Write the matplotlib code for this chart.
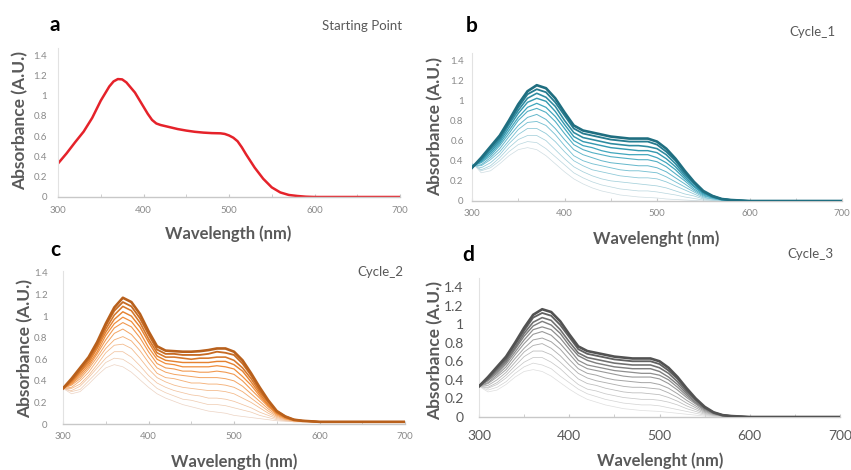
import numpy as np
import matplotlib
matplotlib.use("Agg")
import matplotlib.pyplot as plt
from matplotlib.colors import LinearSegmentedColormap

plt.rcParams['font.family'] = ['Lato', 'DejaVu Sans']

# wavelength grid (nm) used for the cycle spectra
wl = [300, 310, 320, 330, 340, 350, 360, 370, 380, 390, 400, 410, 420, 430, 440, 450,
      460, 470, 480, 490, 500, 510, 520, 530, 540, 550, 560, 570, 580, 600, 700]

# a: starting point (read a bit finer)
start_wl = [300, 310, 320, 330, 340, 350, 360, 365, 370, 375, 380, 390, 400, 405, 410, 415, 420, 430,
            440, 450, 460, 470, 480, 490, 495, 500, 505, 510, 515, 520, 530, 540, 550, 560, 570, 580,
            590, 600, 700]
start_abs = [0.33, 0.43, 0.54, 0.645, 0.78, 0.95, 1.09, 1.14, 1.163, 1.16, 1.13, 1.03, 0.89, 0.82, 0.76,
             0.725, 0.71, 0.69, 0.67, 0.655, 0.643, 0.635, 0.63, 0.628, 0.622, 0.607, 0.585, 0.55, 0.49,
             0.42, 0.29, 0.18, 0.095, 0.045, 0.02, 0.01, 0.003, 0.0, 0.0]

# b: cycle 1 (lowest -> highest)
cycle1_abs = [
    [0.38, 0.28, 0.30, 0.37, 0.45, 0.51, 0.53, 0.51, 0.45, 0.37, 0.29, 0.22, 0.17, 0.13, 0.10, 0.08, 0.06, 0.05, 0.04, 0.035, 0.03, 0.02, 0.015, 0.01, 0.005, 0, 0, 0, 0, 0, 0],
    [0.37, 0.30, 0.33, 0.40, 0.49, 0.56, 0.59, 0.58, 0.52, 0.44, 0.36, 0.28, 0.23, 0.19, 0.16, 0.14, 0.12, 0.11, 0.10, 0.10, 0.09, 0.075, 0.06, 0.04, 0.025, 0.01, 0.005, 0, 0, 0, 0],
    [0.37, 0.31, 0.35, 0.43, 0.53, 0.61, 0.65, 0.65, 0.60, 0.51, 0.42, 0.34, 0.29, 0.25, 0.22, 0.20, 0.19, 0.18, 0.17, 0.16, 0.15, 0.13, 0.10, 0.07, 0.05, 0.02, 0.01, 0.005, 0, 0, 0],
    [0.36, 0.33, 0.38, 0.46, 0.57, 0.66, 0.72, 0.72, 0.67, 0.59, 0.49, 0.40, 0.35, 0.31, 0.29, 0.27, 0.25, 0.24, 0.23, 0.23, 0.22, 0.19, 0.15, 0.11, 0.07, 0.03, 0.02, 0.01, 0, 0, 0],
    [0.36, 0.35, 0.41, 0.49, 0.60, 0.71, 0.78, 0.79, 0.75, 0.66, 0.55, 0.45, 0.40, 0.37, 0.35, 0.33, 0.31, 0.30, 0.30, 0.29, 0.28, 0.24, 0.19, 0.14, 0.09, 0.04, 0.02, 0.01, 0, 0, 0],
    [0.35, 0.36, 0.43, 0.52, 0.64, 0.75, 0.83, 0.86, 0.81, 0.72, 0.61, 0.51, 0.46, 0.43, 0.40, 0.38, 0.37, 0.36, 0.35, 0.35, 0.33, 0.29, 0.23, 0.17, 0.105, 0.05, 0.03, 0.01, 0.005, 0, 0],
    [0.35, 0.38, 0.45, 0.55, 0.67, 0.80, 0.89, 0.92, 0.88, 0.79, 0.67, 0.56, 0.51, 0.48, 0.46, 0.44, 0.43, 0.42, 0.41, 0.41, 0.39, 0.34, 0.27, 0.20, 0.12, 0.06, 0.03, 0.01, 0.005, 0, 0],
    [0.34, 0.39, 0.47, 0.57, 0.70, 0.83, 0.93, 0.97, 0.93, 0.84, 0.72, 0.60, 0.55, 0.53, 0.50, 0.48, 0.47, 0.46, 0.46, 0.46, 0.43, 0.38, 0.31, 0.22, 0.14, 0.07, 0.04, 0.015, 0.005, 0, 0],
    [0.34, 0.40, 0.49, 0.59, 0.73, 0.87, 0.98, 1.02, 0.99, 0.89, 0.76, 0.64, 0.59, 0.57, 0.55, 0.53, 0.52, 0.51, 0.50, 0.50, 0.48, 0.42, 0.34, 0.24, 0.15, 0.08, 0.04, 0.02, 0.01, 0, 0],
    [0.34, 0.41, 0.51, 0.61, 0.76, 0.90, 1.02, 1.07, 1.03, 0.94, 0.80, 0.68, 0.63, 0.61, 0.59, 0.57, 0.56, 0.55, 0.55, 0.54, 0.52, 0.46, 0.37, 0.26, 0.17, 0.09, 0.04, 0.02, 0.01, 0, 0],
    [0.33, 0.42, 0.53, 0.63, 0.78, 0.93, 1.06, 1.11, 1.08, 0.98, 0.85, 0.72, 0.67, 0.65, 0.63, 0.61, 0.60, 0.59, 0.59, 0.59, 0.56, 0.49, 0.40, 0.28, 0.18, 0.09, 0.05, 0.02, 0.01, 0, 0],
    [0.33, 0.43, 0.54, 0.65, 0.80, 0.96, 1.09, 1.15, 1.12, 1.02, 0.88, 0.75, 0.70, 0.68, 0.66, 0.64, 0.63, 0.62, 0.62, 0.62, 0.59, 0.52, 0.42, 0.30, 0.19, 0.10, 0.05, 0.02, 0.01, 0, 0],
]

# c: cycle 2
cycle2_abs = [
    [0.33, 0.28, 0.30, 0.37, 0.45, 0.52, 0.55, 0.53, 0.48, 0.41, 0.34, 0.28, 0.24, 0.21, 0.18, 0.16, 0.14, 0.12, 0.11, 0.10, 0.08, 0.07, 0.06, 0.05, 0.04, 0.03, 0.025, 0.02, 0.02, 0.02, 0.02],
    [0.33, 0.30, 0.32, 0.40, 0.48, 0.57, 0.61, 0.60, 0.55, 0.48, 0.40, 0.33, 0.29, 0.26, 0.23, 0.22, 0.20, 0.18, 0.18, 0.17, 0.15, 0.13, 0.11, 0.08, 0.06, 0.04, 0.03, 0.02, 0.02, 0.02, 0.02],
    [0.33, 0.31, 0.35, 0.43, 0.52, 0.61, 0.67, 0.67, 0.62, 0.54, 0.45, 0.38, 0.34, 0.31, 0.29, 0.27, 0.26, 0.24, 0.24, 0.23, 0.21, 0.18, 0.15, 0.11, 0.08, 0.05, 0.035, 0.025, 0.02, 0.02, 0.02],
    [0.33, 0.33, 0.37, 0.45, 0.55, 0.66, 0.73, 0.74, 0.70, 0.61, 0.51, 0.43, 0.39, 0.36, 0.34, 0.33, 0.32, 0.31, 0.31, 0.30, 0.28, 0.24, 0.20, 0.15, 0.10, 0.06, 0.04, 0.03, 0.02, 0.02, 0.02],
    [0.33, 0.34, 0.40, 0.48, 0.59, 0.70, 0.78, 0.81, 0.77, 0.68, 0.57, 0.47, 0.43, 0.42, 0.40, 0.38, 0.38, 0.37, 0.37, 0.36, 0.34, 0.30, 0.24, 0.18, 0.12, 0.07, 0.045, 0.03, 0.025, 0.02, 0.02],
    [0.33, 0.36, 0.42, 0.51, 0.62, 0.74, 0.84, 0.88, 0.83, 0.74, 0.62, 0.52, 0.48, 0.46, 0.45, 0.44, 0.43, 0.43, 0.43, 0.42, 0.40, 0.35, 0.28, 0.21, 0.14, 0.08, 0.05, 0.03, 0.025, 0.02, 0.02],
    [0.33, 0.37, 0.44, 0.53, 0.65, 0.78, 0.89, 0.94, 0.90, 0.80, 0.67, 0.56, 0.52, 0.51, 0.49, 0.49, 0.48, 0.48, 0.49, 0.48, 0.46, 0.40, 0.32, 0.24, 0.16, 0.09, 0.05, 0.03, 0.025, 0.02, 0.02],
    [0.33, 0.38, 0.46, 0.55, 0.67, 0.82, 0.93, 0.99, 0.95, 0.85, 0.71, 0.60, 0.56, 0.55, 0.53, 0.53, 0.53, 0.53, 0.54, 0.53, 0.51, 0.44, 0.36, 0.26, 0.17, 0.10, 0.06, 0.035, 0.03, 0.02, 0.02],
    [0.33, 0.39, 0.48, 0.57, 0.70, 0.85, 0.97, 1.04, 1.00, 0.90, 0.76, 0.63, 0.59, 0.58, 0.57, 0.57, 0.57, 0.57, 0.58, 0.58, 0.55, 0.49, 0.39, 0.28, 0.18, 0.10, 0.06, 0.035, 0.03, 0.02, 0.02],
    [0.33, 0.40, 0.49, 0.59, 0.72, 0.88, 1.01, 1.09, 1.05, 0.94, 0.79, 0.66, 0.62, 0.62, 0.61, 0.60, 0.61, 0.61, 0.62, 0.62, 0.59, 0.52, 0.42, 0.30, 0.20, 0.11, 0.065, 0.04, 0.03, 0.02, 0.02],
    [0.33, 0.41, 0.51, 0.61, 0.74, 0.91, 1.05, 1.13, 1.09, 0.98, 0.83, 0.69, 0.65, 0.65, 0.64, 0.64, 0.64, 0.65, 0.67, 0.66, 0.64, 0.56, 0.45, 0.32, 0.21, 0.12, 0.07, 0.04, 0.03, 0.02, 0.02],
    [0.33, 0.42, 0.52, 0.62, 0.76, 0.93, 1.08, 1.17, 1.13, 1.02, 0.86, 0.72, 0.68, 0.675, 0.67, 0.67, 0.675, 0.685, 0.70, 0.70, 0.67, 0.59, 0.47, 0.34, 0.22, 0.12, 0.07, 0.04, 0.03, 0.02, 0.02],
]

# d: cycle 3
cycle3_abs = [
    [0.33, 0.27, 0.29, 0.35, 0.43, 0.49, 0.51, 0.49, 0.44, 0.37, 0.30, 0.24, 0.19, 0.16, 0.13, 0.11, 0.09, 0.08, 0.07, 0.065, 0.06, 0.05, 0.04, 0.03, 0.02, 0.01, 0.005, 0, 0, 0, 0],
    [0.33, 0.29, 0.32, 0.38, 0.47, 0.54, 0.58, 0.56, 0.52, 0.44, 0.37, 0.30, 0.25, 0.22, 0.19, 0.17, 0.15, 0.14, 0.13, 0.13, 0.12, 0.10, 0.08, 0.06, 0.04, 0.02, 0.01, 0, 0, 0, 0],
    [0.33, 0.31, 0.35, 0.42, 0.51, 0.59, 0.64, 0.64, 0.59, 0.52, 0.43, 0.35, 0.30, 0.28, 0.25, 0.23, 0.21, 0.20, 0.19, 0.19, 0.18, 0.16, 0.13, 0.09, 0.06, 0.03, 0.015, 0.005, 0, 0, 0],
    [0.33, 0.32, 0.37, 0.45, 0.55, 0.65, 0.71, 0.71, 0.67, 0.59, 0.50, 0.41, 0.36, 0.34, 0.31, 0.29, 0.27, 0.26, 0.26, 0.25, 0.24, 0.21, 0.17, 0.12, 0.08, 0.04, 0.02, 0.01, 0, 0, 0],
    [0.33, 0.34, 0.40, 0.48, 0.59, 0.70, 0.77, 0.79, 0.74, 0.66, 0.56, 0.47, 0.42, 0.39, 0.37, 0.35, 0.33, 0.32, 0.32, 0.31, 0.30, 0.26, 0.21, 0.15, 0.10, 0.05, 0.025, 0.01, 0, 0, 0],
    [0.33, 0.36, 0.43, 0.51, 0.63, 0.74, 0.83, 0.85, 0.81, 0.73, 0.62, 0.52, 0.47, 0.45, 0.42, 0.40, 0.39, 0.38, 0.37, 0.37, 0.35, 0.31, 0.25, 0.18, 0.12, 0.06, 0.03, 0.01, 0.005, 0, 0],
    [0.33, 0.37, 0.45, 0.54, 0.67, 0.79, 0.89, 0.92, 0.88, 0.79, 0.68, 0.57, 0.52, 0.50, 0.48, 0.46, 0.44, 0.43, 0.43, 0.43, 0.41, 0.36, 0.29, 0.21, 0.14, 0.07, 0.035, 0.01, 0.005, 0, 0],
    [0.33, 0.39, 0.47, 0.57, 0.70, 0.83, 0.94, 0.97, 0.94, 0.85, 0.73, 0.61, 0.56, 0.54, 0.52, 0.50, 0.49, 0.48, 0.47, 0.47, 0.45, 0.40, 0.32, 0.23, 0.15, 0.08, 0.04, 0.015, 0.005, 0, 0],
    [0.33, 0.40, 0.49, 0.59, 0.73, 0.87, 0.98, 1.03, 0.99, 0.90, 0.77, 0.66, 0.61, 0.58, 0.56, 0.54, 0.53, 0.52, 0.52, 0.52, 0.49, 0.43, 0.35, 0.25, 0.16, 0.09, 0.04, 0.02, 0.01, 0, 0],
    [0.33, 0.41, 0.51, 0.61, 0.75, 0.90, 1.02, 1.07, 1.04, 0.94, 0.81, 0.69, 0.64, 0.62, 0.60, 0.58, 0.57, 0.56, 0.56, 0.56, 0.53, 0.47, 0.38, 0.27, 0.18, 0.10, 0.045, 0.02, 0.01, 0, 0],
    [0.33, 0.42, 0.53, 0.63, 0.78, 0.93, 1.07, 1.12, 1.09, 0.99, 0.86, 0.73, 0.68, 0.66, 0.64, 0.62, 0.61, 0.60, 0.60, 0.60, 0.57, 0.50, 0.41, 0.29, 0.19, 0.10, 0.05, 0.02, 0.01, 0, 0],
    [0.33, 0.43, 0.54, 0.65, 0.80, 0.96, 1.10, 1.16, 1.13, 1.03, 0.89, 0.76, 0.71, 0.69, 0.67, 0.65, 0.64, 0.63, 0.63, 0.63, 0.60, 0.53, 0.43, 0.31, 0.20, 0.11, 0.05, 0.02, 0.01, 0, 0],
]

yticks = [0, 0.2, 0.4, 0.6, 0.8, 1.0, 1.2, 1.4]
ytick_labels = ["0", "0.2", "0.4", "0.6", "0.8", "1", "1.2", "1.4"]
xticks = [300, 400, 500, 600, 700]

W, H = 851, 470
fig = plt.figure(figsize=(W / 100, H / 100), dpi=100)


def px(x, y):
    return x / W, 1 - y / H


def make_ax(left, right, y0, ppu, ytop):
    # pixel box -> axes, ppu = pixels per absorbance unit
    ax = fig.add_axes([left / W, (H - y0) / H, (right - left) / W, ytop * ppu / H])
    ax.set_xlim(300, 700)
    ax.set_ylim(0, ytop)
    for s in ['top', 'right']:
        ax.spines[s].set_visible(False)
    ax.spines['bottom'].set_color('#c8c8c8')
    ax.spines['left'].set_color('#e2e2e2')
    ax.spines['bottom'].set_linewidth(1.0)
    ax.spines['left'].set_linewidth(0.8)
    ax.set_xticks(xticks)
    ax.set_xticks([350, 450, 550, 650], minor=True)
    ax.set_yticks(yticks)
    ax.set_yticklabels(ytick_labels)
    ax.tick_params(axis='x', which='both', direction='in', length=2.5, color='#c8c8c8')
    ax.tick_params(axis='y', length=0)
    return ax


def style_ticks(ax, size, color, xpad, ypad):
    ax.tick_params(axis='x', labelsize=size, labelcolor=color, pad=xpad)
    ax.tick_params(axis='y', labelsize=size, labelcolor=color, pad=ypad)


def draw_family(ax, curves, cmap):
    n = len(curves)
    for i, ys in enumerate(curves):
        t = i / (n - 1)
        lw = 0.5 + 1.0 * t * t if i < n - 1 else 1.9
        ax.plot(wl, ys, color=cmap(t), lw=lw, zorder=2 + i, solid_joinstyle='round')


teal = LinearSegmentedColormap.from_list('teal', ['#cfdde2', '#7cc3d4', '#3aa3bb', '#1f6e80'])
orange = LinearSegmentedColormap.from_list('orange', ['#ecd3c3', '#f5b47e', '#ef8a35', '#b8601c'])
grey = LinearSegmentedColormap.from_list('grey', ['#dedede', '#b4b4b4', '#8a8a8a', '#525252'])

title_c = '#595959'
label_kw = dict(fontweight='bold', color=title_c, ha='center', va='center')
letter_kw = dict(fontweight='bold', color='black', fontsize=15, ha='center', va='center')

# a
ax_a = make_ax(58, 400, 197, 101.4, 1.47)
ax_a.plot(start_wl, start_abs, color='#e5222a', lw=1.8, solid_joinstyle='round')
style_ticks(ax_a, 7, '#8a8a8a', 6.5, 8)
fig.text(*px(55, 25), 'a', **letter_kw)
fig.text(*px(402, 26), 'Starting Point', fontsize=9.5, color=title_c, ha='right', va='center')
fig.text(*px(20, 121), 'Absorbance (A.U.)', fontsize=12.5, rotation=90, **label_kw)
fig.text(*px(228, 234), 'Wavelength (nm)', fontsize=12, **label_kw)

# b
ax_b = make_ax(472, 842, 201, 100.7, 1.47)
draw_family(ax_b, cycle1_abs, teal)
style_ticks(ax_b, 7, '#8a8a8a', 6, 6)
fig.text(*px(472, 26), 'b', **letter_kw)
fig.text(*px(835, 32), 'Cycle_1', fontsize=9.5, color=title_c, ha='right', va='center')
fig.text(*px(435, 127), 'Absorbance (A.U.)', fontsize=12.5, rotation=90, **label_kw)
fig.text(*px(656, 239), 'Wavelenght (nm)', fontsize=12, **label_kw)

# c
ax_c = make_ax(63, 405, 424, 107.9, 1.42)
draw_family(ax_c, cycle2_abs, orange)
style_ticks(ax_c, 7, '#8a8a8a', 6, 11)
fig.text(*px(55, 250), 'c', **letter_kw)
fig.text(*px(403, 272), 'Cycle_2', fontsize=9.5, color=title_c, ha='right', va='center')
fig.text(*px(25, 349), 'Absorbance (A.U.)', fontsize=12.5, rotation=90, **label_kw)
fig.text(*px(234, 462), 'Wavelength (nm)', fontsize=12, **label_kw)

# d
ax_d = make_ax(479, 840, 417, 92.9, 1.5)
draw_family(ax_d, cycle3_abs, grey)
style_ticks(ax_d, 10, '#595959', 9, 11)
fig.text(*px(468, 255), 'd', **letter_kw)
fig.text(*px(834, 254), 'Cycle_3', fontsize=9.5, color=title_c, ha='right', va='center')
fig.text(*px(435, 350), 'Absorbance (A.U.)', fontsize=12.5, rotation=90, **label_kw)
fig.text(*px(660, 461), 'Wavelenght (nm)', fontsize=12, **label_kw)

fig.savefig('out.png', dpi=100)
